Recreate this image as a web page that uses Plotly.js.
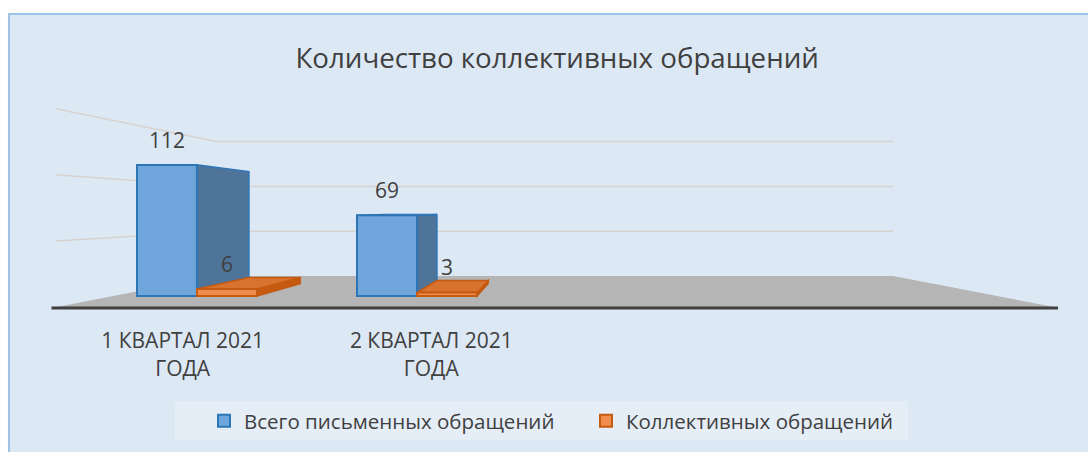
<!DOCTYPE html>
<html><head><meta charset="utf-8">
<script src="https://cdn.plot.ly/plotly-3.0.1.min.js"></script>
<style>html,body{margin:0;padding:0;background:#fff;} #chart{width:1088px;height:452px;}</style>
</head><body><div id="chart"></div>
<script>
// ---- data ----
const chartTitle = 'Количество коллективных обращений';
const categories = ['1 КВАРТАЛ 2021<br>ГОДА', '2 КВАРТАЛ 2021<br>ГОДА'];
const seriesNames = ['Всего письменных обращений', 'Коллективных обращений'];
const totalAppeals = [112, 69];
const collectiveAppeals = [6, 3];
const gridValues = [50, 100, 150];

// ---- styling / pseudo-3D geometry ----
const FONT = 'Open Sans, Noto Sans, sans-serif';
const TXT = '#404040';
const BAR_W = 0.2727;
const VPX = 1.6227, VPY = 73.0;            // vanishing point (data units)
const S_BAR = 0.8545;                       // bar depth
const S_FRONT = 1.1405, S_BACK = 0.766, S_LWALL = 1.131;
const FLOOR_X0 = -0.38, FLOOR_X1 = 3.635;
const XR = [-0.7136, 3.9136], YR = [-12.82, 167.52];

function proj(x, v, s) { return [VPX + (x - VPX) * s, VPY + (v - VPY) * s]; }
function pathOf(pts) { return 'M' + pts.map(p => p[0] + ',' + p[1]).join('L') + 'Z'; }
function polyShape(pts, fill, line, lw) {
  return {type: 'path', xref: 'x', yref: 'y', layer: 'below', path: pathOf(pts),
          fillcolor: fill, line: {color: line, width: lw}};
}

const series = [
  {name: seriesNames[0], values: totalAppeals, front: '#6ea5da', edge: '#2e75b6', side: '#4e7499', top: '#5d8fc4'},
  {name: seriesNames[1], values: collectiveAppeals, front: '#f08c4c', edge: '#c55a11', side: '#c55a11', top: '#d8732f'}
];

const shapes = [];
// panel background
shapes.push({type: 'rect', xref: 'paper', yref: 'paper', layer: 'below',
  x0: -0.0305, x1: 1.1, y0: -0.8, y1: 1.4076, fillcolor: '#dde8f5', line: {color: '#9dc3e6', width: 2}});
// legend box
shapes.push({type: 'rect', xref: 'paper', yref: 'paper', layer: 'below',
  x0: 0.1326, x1: 0.8527, y0: -0.6114, y1: -0.4265, fillcolor: '#e5edf7', line: {width: 0}});
// floor
shapes.push(polyShape([proj(FLOOR_X0, 0, S_FRONT), proj(FLOOR_X1, 0, S_FRONT), proj(FLOOR_X1, 0, S_BACK), proj(FLOOR_X0, 0, S_BACK)], '#b5b5b5', '#b5b5b5', 0));
// gridlines on back wall and left wall
gridValues.forEach(g => {
  const a = proj(FLOOR_X0, g, S_LWALL), b = proj(FLOOR_X0, g, S_BACK), c = proj(FLOOR_X1, g, S_BACK);
  shapes.push({type: 'path', xref: 'x', yref: 'y', layer: 'below',
    path: 'M' + a[0] + ',' + a[1] + 'L' + b[0] + ',' + b[1] + 'L' + c[0] + ',' + c[1],
    line: {color: '#d6d3cf', width: 1.5}});
});
// floor front edge
const fe0 = proj(FLOOR_X0, 0, S_FRONT), fe1 = proj(FLOOR_X1, 0, S_FRONT);
shapes.push({type: 'line', xref: 'x', yref: 'y', layer: 'below', x0: fe0[0], y0: fe0[1], x1: fe1[0], y1: fe1[1],
  line: {color: '#404040', width: 3}});

// side/top faces
categories.forEach((c, i) => {
  series.forEach((s, k) => {
    const v = s.values[i];
    const x0 = i + (k - 1) * BAR_W, x1 = x0 + BAR_W;
    shapes.push(polyShape([[x1, 0], [x1, v], proj(x1, v, S_BAR), proj(x1, 0, S_BAR)], s.side, s.edge, 1.5));
    if (v < VPY) {
      shapes.push(polyShape([[x0, v], [x1, v], proj(x1, v, S_BAR), proj(x0, v, S_BAR)], s.top, s.edge, 1.5));
    }
  });
});

const traces = series.map((s, k) => ({
  type: 'bar', name: s.name,
  x: categories.map((c, i) => i + (k - 0.5) * BAR_W),
  y: s.values, width: BAR_W, base: 0,
  marker: {color: s.front, line: {color: s.edge, width: 2}},
  hoverinfo: 'skip'
}));

const annotations = [];
series.forEach((s, k) => {
  s.values.forEach((v, i) => {
    annotations.push({x: i + (k - 0.5) * BAR_W, y: v, xref: 'x', yref: 'y', text: String(v),
      showarrow: false, yanchor: 'middle', yshift: 25, font: {family: FONT, size: 21, color: TXT}});
  });
});

const layout = {
  width: 1088, height: 452,
  margin: {l: 40, r: 30, t: 100, b: 141, pad: 0, autoexpand: false},
  paper_bgcolor: '#ffffff', plot_bgcolor: 'rgba(0,0,0,0)',
  title: {text: chartTitle, font: {family: FONT, size: 27.7, color: TXT},
          xref: 'paper', x: 0.508, xanchor: 'center', yref: 'container', y: 1 - 58 / 452, yanchor: 'middle'},
  barmode: 'overlay',
  xaxis: {range: XR, showgrid: false, zeroline: false, showline: false, automargin: false,
          tickvals: categories.map((c, i) => i + (i - 0.5) * 0.13), ticktext: categories,
          ticks: 'outside', ticklen: 11, tickcolor: 'rgba(0,0,0,0)',
          tickfont: {family: FONT, size: 21, color: TXT}, fixedrange: true},
  yaxis: {range: YR, visible: false, fixedrange: true, automargin: false},
  showlegend: true,
  legend: {orientation: 'h', xref: 'container', yref: 'container', x: 0.1875, xanchor: 'left', y: 1 - 401 / 452, yanchor: 'top',
           entrywidth: 337, entrywidthmode: 'pixels',
           bgcolor: 'rgba(0,0,0,0)', font: {family: FONT, size: 20.5, color: TXT}},
  shapes: shapes,
  annotations: annotations
};

Plotly.newPlot('chart', traces, layout, {displayModeBar: false, staticPlot: true});
</script></body></html>
